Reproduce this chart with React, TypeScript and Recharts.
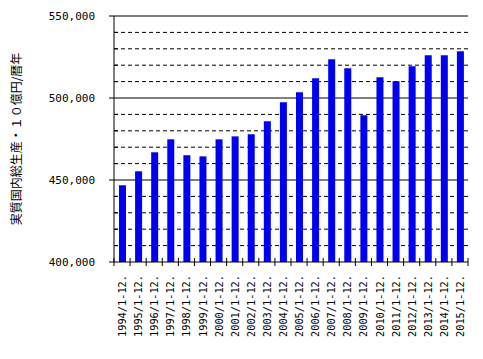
import { BarChart, Bar, XAxis, YAxis, ReferenceLine } from 'recharts';

const periods = [
  '1994/1-12.', '1995/1-12.', '1996/1-12.', '1997/1-12.', '1998/1-12.', '1999/1-12.',
  '2000/1-12.', '2001/1-12.', '2002/1-12.', '2003/1-12.', '2004/1-12.', '2005/1-12.',
  '2006/1-12.', '2007/1-12.', '2008/1-12.', '2009/1-12.', '2010/1-12.', '2011/1-12.',
  '2012/1-12.', '2013/1-12.', '2014/1-12.', '2015/1-12.',
];

const realGdp = [
  446800, 455300, 466900, 474800, 465100, 464400,
  474800, 476600, 477900, 485800, 497400, 503500,
  512000, 523600, 518100, 489500, 512600, 510200,
  519300, 526000, 526000, 528500,
];

const yTicks = [
  400000, 410000, 420000, 430000, 440000, 450000, 460000, 470000,
  480000, 490000, 500000, 510000, 520000, 530000, 540000, 550000,
];
const majorLines = [450000, 500000, 550000];
const minorLines = [
  410000, 420000, 430000, 440000, 460000, 470000, 480000, 490000,
  510000, 520000, 530000, 540000,
];

const yLabel = '実質国内総生産・１０億円/暦年';

const data = periods.map((period, i) => ({ period, gdp: realGdp[i] }));

const tickFont = "'DejaVu Sans Mono', monospace";

function YTick({ x, y, payload }: any) {
  const v = payload.value as number;
  const major = v % 50000 === 0;
  return (
    <g>
      <line x1={major ? x - 5 : x} x2={major ? x : x + 4} y1={y} y2={y} stroke="#000" />
      {major && (
        <text x={x - 19} y={y} dy={4} textAnchor="end" fill="#000" fontSize={11} fontFamily={tickFont}>
          {v.toLocaleString('en-US')}
        </text>
      )}
    </g>
  );
}

function XTick({ x, y, payload, index }: any) {
  const half = payload.offset ?? 8;
  const last = index === periods.length - 1;
  return (
    <g>
      <line x1={x - half} x2={x - half} y1={y - 4} y2={y + 4} stroke="#000" />
      {last && <line x1={x + half} x2={x + half} y1={y - 4} y2={y + 4} stroke="#000" />}
      <text
        x={x + 4}
        y={y + 13}
        transform={`rotate(-90, ${x + 4}, ${y + 13})`}
        textAnchor="end"
        fill="#000"
        fontSize={10.3}
        fontFamily={tickFont}
      >
        {payload.value}
      </text>
    </g>
  );
}

function YAxisTitle({ viewBox }: any) {
  const cx = viewBox.x + 15;
  const cy = viewBox.y + viewBox.height / 2;
  return (
    <text
      x={cx}
      y={cy}
      transform={`rotate(-90, ${cx}, ${cy})`}
      textAnchor="middle"
      dominantBaseline="central"
      fill="#000"
      fontSize={12}
      fontFamily="'Noto Sans CJK JP', sans-serif"
    >
      {yLabel}
    </text>
  );
}

export default function App() {
  return (
    <div style={{ position: 'absolute', left: 0, top: 0, width: 483, height: 359, background: '#fff' }}>
      <BarChart width={483} height={359} data={data} margin={{ top: 16, right: 15, left: 0, bottom: 0 }}>
        {minorLines.map((v) => (
          <ReferenceLine key={v} y={v} stroke="#000" strokeDasharray="4 3" zIndex={-50} />
        ))}
        {majorLines.map((v) => (
          <ReferenceLine key={v} y={v} stroke="#000" zIndex={-50} />
        ))}
        <XAxis
          dataKey="period"
          interval={0}
          height={97}
          tickSize={0}
          tickMargin={0}
          tickLine={false}
          axisLine={{ stroke: '#000' }}
          tick={<XTick />}
        />
        <YAxis
          domain={[400000, 550000]}
          ticks={yTicks}
          interval={0}
          width={114}
          tickSize={0}
          tickMargin={0}
          tickLine={false}
          axisLine={{ stroke: '#000' }}
          tick={<YTick />}
          label={{ content: <YAxisTitle /> }}
        />
        <YAxis yAxisId="r" orientation="right" width={0} tick={false} tickLine={false} axisLine={{ stroke: '#000' }} />
        <Bar dataKey="gdp" fill="#0000f0" barSize={7} isAnimationActive={false} />
      </BarChart>
    </div>
  );
}
